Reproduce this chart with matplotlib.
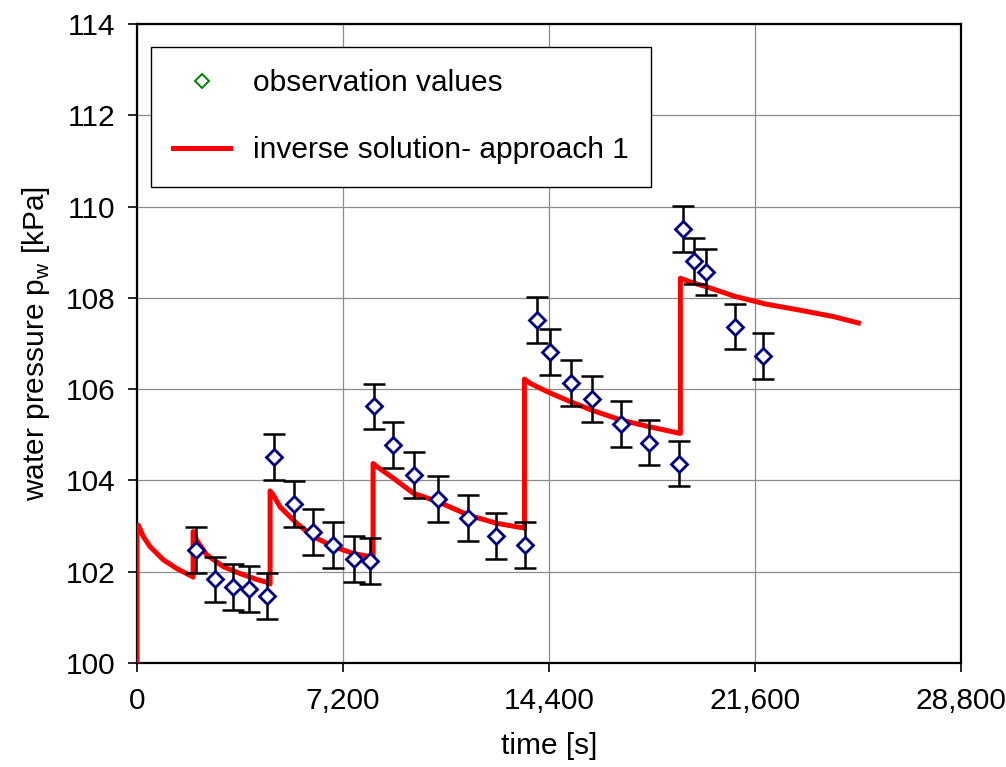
import matplotlib
matplotlib.use("Agg")
import matplotlib.pyplot as plt
from matplotlib.lines import Line2D
from matplotlib.ticker import StrMethodFormatter

plt.rcParams['font.family'] = ['Liberation Sans', 'DejaVu Sans']
plt.rcParams['mathtext.fontset'] = 'custom'
plt.rcParams['mathtext.rm'] = 'Liberation Sans'

# observation values [s], [kPa]
t_obs = [2062, 2726, 3355, 3914, 4555, 4788, 5499, 6140, 6862, 7584, 8144,
         8295, 8937, 9671, 10531, 11580, 12537, 13572,
         13970, 14446, 15169, 15893, 16926, 17885, 18933,
         19073, 19479, 19888, 20912, 21891]
p_obs = [102.47, 101.83, 101.67, 101.62, 101.47, 104.52, 103.48, 102.87,
         102.58, 102.28, 102.23,
         105.62, 104.78, 104.12, 103.59, 103.18, 102.78, 102.58,
         107.51, 106.81, 106.13, 105.78, 105.23, 104.83, 104.37,
         109.51, 108.81, 108.57, 107.37, 106.73]
p_err = [0.5] * len(p_obs)

# inverse solution - approach 1
t_model = [0, 0, 45, 220, 454, 920, 1387, 1946, 1960,
           1960, 2085, 2436, 3017, 3600, 4184, 4590, 4650,
           4650, 4765, 4998, 5581, 6163, 6862, 7560, 8144, 8250,
           8250, 8434, 8958, 9657, 10531, 11580, 12572, 13502, 13540,
           13540, 13733, 14317, 15016, 15890, 16926, 17885, 18978, 18990,
           18990, 19328, 19912, 20912, 22010, 23173, 24337, 25212]
p_model = [100.0, 103.0, 103.02, 102.77, 102.55, 102.26, 102.07, 101.89, 101.88,
           102.88, 102.69, 102.37, 102.11, 101.96, 101.83, 101.76, 101.73,
           103.77, 103.68, 103.42, 103.06, 102.77, 102.55, 102.40, 102.33, 102.32,
           104.37, 104.28, 104.05, 103.72, 103.53, 103.24, 103.06, 102.96, 102.95,
           106.22, 106.13, 105.95, 105.76, 105.54, 105.32, 105.18, 105.03, 105.03,
           108.43, 108.35, 108.24, 108.03, 107.86, 107.73, 107.59, 107.45]

x_ticks = [0, 7200, 14400, 21600, 28800]
y_ticks = [100, 102, 104, 106, 108, 110, 112, 114]

FS = 21.5

fig = plt.figure(figsize=(10.06, 7.67), dpi=100)
ax = fig.add_axes([0.1362, 0.1356, 0.8191, 0.8331])

ax.plot(t_model, p_model, color='#ff0000', lw=3.6, zorder=3,
        solid_joinstyle='round')
ax.errorbar(t_obs, p_obs, yerr=p_err, fmt='none', ecolor='black',
            elinewidth=1.8, capsize=8, capthick=1.8, zorder=4)
ax.plot(t_obs, p_obs, 'D', ms=7.8, mfc='white', mec='#000080', mew=2.0,
        ls='none', zorder=5)

ax.set_xlim(0, 28800)
ax.set_ylim(100, 114)
ax.set_xticks(x_ticks)
ax.set_yticks(y_ticks)
ax.xaxis.set_major_formatter(StrMethodFormatter('{x:,.0f}'))
ax.grid(True, color='#8c8c8c', lw=0.9)
ax.set_axisbelow(True)
for sp in ax.spines.values():
    sp.set_linewidth(1.6)
    sp.set_color('black')
ax.tick_params(axis='both', direction='out', length=6.5, width=1.2,
               labelsize=FS, top=False, right=False)
ax.tick_params(axis='x', pad=11)
ax.tick_params(axis='y', pad=9)

ax.set_xlabel('time [s]', fontsize=FS, labelpad=12)
ax.set_ylabel('water pressure p$_\\mathrm{w}$ [kPa]', fontsize=FS, labelpad=10)

h_obs = Line2D([], [], marker='D', ms=7.5, mfc='white', mec='#008000',
               mew=1.4, ls='none')
h_mod = Line2D([], [], color='#ff0000', lw=3.6)
leg = ax.legend([h_obs, h_mod],
                ['observation values', 'inverse solution- approach 1'],
                loc='upper left', bbox_to_anchor=(0.017, 0.964),
                fontsize=FS, frameon=True, fancybox=False, shadow=False,
                borderpad=0.75, labelspacing=1.3, handlelength=1.9,
                handletextpad=0.75, borderaxespad=0)
leg.get_frame().set_edgecolor('black')
leg.get_frame().set_linewidth(1.0)
leg.get_frame().set_alpha(1)

fig.savefig('out.png', dpi=100)
